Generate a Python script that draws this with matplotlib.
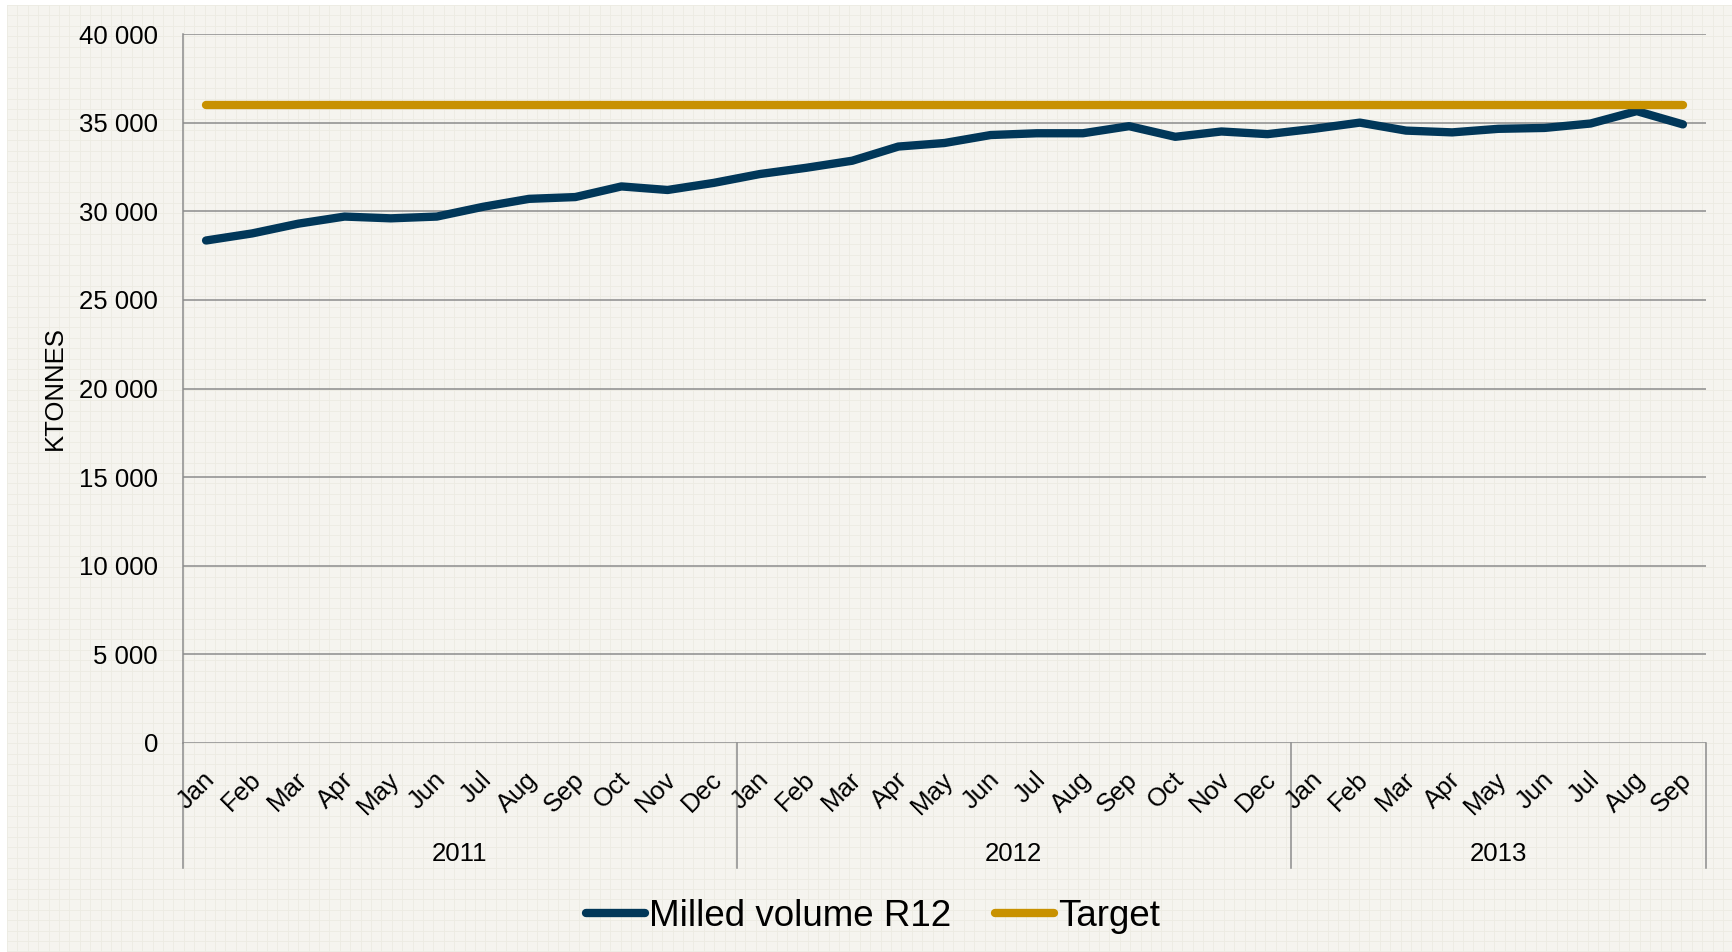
import numpy as np
import matplotlib
matplotlib.use("Agg")
import matplotlib.pyplot as plt
from matplotlib import transforms

plt.rcParams['font.family'] = ['Liberation Sans', 'DejaVu Sans']

# ---------------- data ----------------
month_labels = ["Jan", "Feb", "Mar", "Apr", "May", "Jun", "Jul", "Aug", "Sep", "Oct", "Nov", "Dec",
                "Jan", "Feb", "Mar", "Apr", "May", "Jun", "Jul", "Aug", "Sep", "Oct", "Nov", "Dec",
                "Jan", "Feb", "Mar", "Apr", "May", "Jun", "Jul", "Aug", "Sep"]
years = ["2011", "2012", "2013"]
months_per_year = [12, 12, 9]

milled_volume = [28350, 28750, 29300, 29700, 29600, 29700, 30250, 30700, 30800, 31400, 31200, 31600,
                 32100, 32450, 32850, 33650, 33850, 34300, 34400, 34400, 34800, 34200, 34500, 34350,
                 34650, 35000, 34550, 34450, 34650, 34700, 34950, 35650, 34900]
target = [36000] * 33

y_ticks = [0, 5000, 10000, 15000, 20000, 25000, 30000, 35000, 40000]

# ---------------- figure ----------------
W, H, DPI = 1732, 952, 100
fig = plt.figure(figsize=(W / DPI, H / DPI), dpi=DPI)
fig.patch.set_facecolor('white')

# paper background with faint grid
bg = fig.add_axes([0, 0, 1, 1], zorder=-10)
bg.set_xlim(0, W)
bg.set_ylim(H, 0)
bg.axis('off')
bg.add_patch(plt.Rectangle((7, 5), W - 7, H - 5, facecolor='#F5F4EF', edgecolor='none'))
for gx in np.arange(7, W, 10.4):
    bg.plot([gx, gx], [5, H], color='#ECEBE2', lw=0.6, zorder=1)
for gy in np.arange(5, H, 10.4):
    bg.plot([7, W], [gy, gy], color='#ECEBE2', lw=0.6, zorder=1)

left, right, top, bottom = 183, 1706, 34, 743
ax = fig.add_axes([left / W, 1 - bottom / H, (right - left) / W, (bottom - top) / H])
ax.set_facecolor('none')

x = np.arange(len(month_labels))
ax.plot(x, milled_volume, color='#013759', lw=6, solid_capstyle='round',
        solid_joinstyle='round', label='Milled volume R12', zorder=3)
ax.plot(x, target, color='#C89100', lw=6, solid_capstyle='round',
        label='Target', zorder=3)

ax.set_xlim(-0.5, len(month_labels) - 0.5)
ax.set_ylim(0, 40000)
ax.set_yticks(y_ticks)
ax.set_yticklabels([f"{v:,}".replace(",", " ") for v in y_ticks], fontsize=18.5)
ax.tick_params(axis='y', length=0, pad=18)
ax.yaxis.grid(True, color='#8C8C8C', lw=1.1)
ax.set_axisbelow(True)
for s in ['top', 'right', 'bottom']:
    ax.spines[s].set_visible(False)
ax.spines['left'].set_color('#8C8C8C')
ax.spines['left'].set_linewidth(1.1)
ax.set_xticks([])

ax.set_ylabel("KTONNES", fontsize=18.5, labelpad=9)

# month labels (rotated)
trans = transforms.blended_transform_factory(ax.transData, ax.transAxes)
offset = transforms.ScaledTranslation(5 / DPI, -33 / DPI, fig.dpi_scale_trans)
for xi, lab in zip(x, month_labels):
    ax.text(xi, 0, lab, transform=trans + offset, rotation=45, rotation_mode='anchor',
            ha='right', va='center', fontsize=18.5)

# year separators and labels
axh = bottom - top
sep_bottom = -(868 - bottom) / axh
year_y = -(854 - bottom) / axh
bounds = [-0.5]
for n in months_per_year:
    bounds.append(bounds[-1] + n)
for b in bounds:
    ax.plot([b, b], [0, sep_bottom], transform=trans, color='#8C8C8C', lw=1.1, clip_on=False)
for yr, a, b in zip(years, bounds[:-1], bounds[1:]):
    ax.text((a + b) / 2, year_y, yr, transform=trans, ha='center', va='center', fontsize=18.5)

fig.legend(loc='center', bbox_to_anchor=(873 / W, 1 - 916 / H), ncol=2, frameon=False,
           fontsize=26.5, handlelength=1.6, handletextpad=0.1, columnspacing=1.2)

fig.savefig("out.png", dpi=DPI, facecolor=fig.get_facecolor())
